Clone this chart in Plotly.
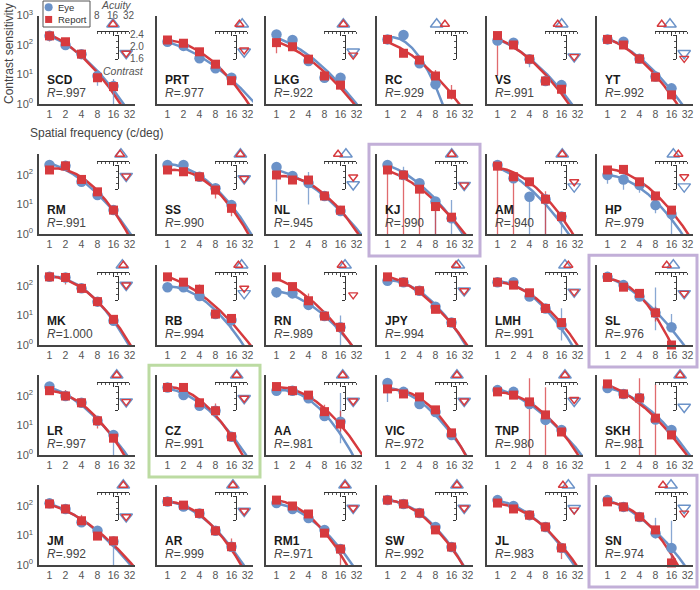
import numpy as np
import plotly.graph_objects as go

W, H = 700, 590
BLUE = "#6b92c8"
RED = "#d63a3e"
BLUE_ERR = "rgba(107,146,200,0.8)"
RED_ERR = "rgba(214,58,62,0.75)"
AXC = "#444444"
TXT = "#555555"
FONT = "Liberation Sans, Arial, Helvetica, sans-serif"

# ---------------- data ----------------
subjects = ["SCD", "PRT", "LKG", "RC", "VS", "YT",
            "RM", "SS", "NL", "KJ", "AM", "HP",
            "MK", "RB", "RN", "JPY", "LMH", "SL",
            "LR", "CZ", "AA", "VIC", "TNP", "SKH",
            "JM", "AR", "RM1", "SW", "JL", "SN"]
r_values = [".997", ".977", ".922", ".929", ".991", ".992",
            ".991", ".990", ".945", ".990", ".940", ".979",
            "1.000", ".994", ".989", ".994", ".991", ".976",
            ".997", ".991", ".981", ".972", ".980", ".981",
            ".992", ".999", ".971", ".992", ".983", ".974"]
freqs = [1, 2, 4, 8, 16]
freq_ticks = [1, 2, 4, 8, 16, 32]

# log10 contrast sensitivity, Eye (blue circles)
eye_logcs = [
    [2.31, 2.00, 1.69, 0.95, 0.61],   # SCD
    [2.11, 1.97, 1.55, 1.21, 0.89],   # PRT
    [2.36, 2.17, 1.46, 0.89, 0.89],   # LKG
    [2.19, 2.34, 1.38, 0.67, None],   # RC
    [2.15, 2.08, 1.52, 0.78, 0.64],   # VS
    [2.19, 2.11, 1.53, 0.93, 0.53],   # YT
    [2.34, 2.31, 1.77, 1.32, 0.81],   # RM
    [2.34, 2.34, 1.94, 1.55, 0.98],   # SS
    [2.27, 1.97, 1.73, 1.29, 0.78],   # NL
    [2.34, 2.00, 1.72, 1.10, 0.53],   # KJ
    [2.34, 1.89, 1.26, 1.18, 0.59],   # AM
    [2.00, 1.85, 1.66, 0.98, 0.68],   # HP
    [2.31, 2.29, 1.92, 1.47, 0.82],   # MK
    [1.96, 1.96, 1.66, 1.05, 0.85],   # RB
    [1.79, 1.75, 1.36, 0.98, 0.60],   # RN
    [2.18, 2.13, 1.84, 1.30, 0.76],   # JPY
    [2.13, 2.13, 1.64, 1.24, 0.68],   # LMH
    [2.31, 2.03, 1.64, 1.09, 0.60],   # SL
    [2.32, 2.00, 1.77, 1.16, 0.68],   # LR
    [2.29, 2.03, 1.67, 1.50, 0.62],   # CZ
    [2.18, 2.18, 1.92, 1.32, 1.13],   # AA
    [2.44, 2.14, 1.73, 1.46, 0.68],   # VIC
    [2.20, 2.14, 1.73, 1.19, 0.85],   # TNP
    [2.27, 2.07, 1.93, 1.20, 0.85],   # SKH
    [2.09, 1.90, 1.45, 1.16, 0.80],   # JM
    [2.15, 1.98, 1.75, 1.16, 0.62],   # AR
    [2.10, 1.90, 1.59, 1.19, 0.54],   # RM1
    [2.20, 2.07, 1.76, 1.29, 0.61],   # SW
    [2.20, 2.00, 1.69, 1.29, 0.58],   # JL
    [2.20, 1.97, 1.63, 1.08, 0.58],   # SN
]
# log10 contrast sensitivity, Report (red squares)
report_logcs = [
    [2.31, 2.11, 1.69, 0.89, 0.59],   # SCD
    [2.17, 2.06, 1.77, 1.35, 0.79],   # PRT
    [2.08, 1.94, 1.52, 0.95, 0.64],   # LKG
    [2.19, 1.72, 1.49, 0.95, 0.33],   # RC
    [2.32, 2.00, 1.52, 0.78, 0.50],   # VS
    [2.19, 2.00, 1.53, 0.91, 0.31],   # YT
    [2.17, 2.31, 1.85, 1.43, 0.81],   # RM
    [2.17, 2.11, 1.94, 1.49, 0.87],   # SS
    [2.00, 1.83, 1.83, 1.29, 0.81],   # NL
    [2.17, 2.00, 1.52, 0.93, 0.57],   # KJ
    [2.30, 1.94, 1.77, 1.18, 0.59],   # AM
    [2.17, 2.19, 1.77, 1.29, 0.81],   # HP
    [2.31, 2.29, 1.92, 1.47, 0.87],   # MK
    [2.31, 2.13, 1.89, 1.05, 0.90],   # RB
    [2.31, 1.98, 1.50, 0.98, 0.60],   # RN
    [2.31, 2.13, 1.84, 1.21, 0.76],   # JPY
    [2.13, 2.03, 1.77, 1.24, 0.76],   # LMH
    [2.29, 1.96, 1.75, 1.09, 0.00],   # SL
    [2.18, 2.00, 1.77, 1.16, 0.57],   # LR
    [2.29, 2.29, 1.77, 1.50, 0.62],   # CZ
    [2.32, 2.18, 2.03, 1.47, 1.05],   # AA
    [2.24, 2.07, 1.97, 1.53, 0.75],   # VIC
    [2.14, 2.03, 1.80, 1.36, 0.78],   # TNP
    [2.41, 2.07, 1.93, 1.25, 0.68],   # SKH
    [2.07, 1.90, 1.50, 0.98, 0.82],   # JM
    [2.15, 2.03, 1.75, 1.16, 0.62],   # AR
    [2.20, 2.00, 1.73, 1.08, 0.54],   # RM1
    [2.20, 2.07, 1.76, 1.19, 0.61],   # SW
    [2.10, 1.90, 1.69, 1.29, 0.58],   # JL
    [2.14, 1.97, 1.63, 1.19, 0.07],   # SN
]
# inset: acuity (c/deg)
eye_acuity = [16, 26, 18.5, 8.6, 16.5, 15.3,
              22.6, 24, 20.7, 16.5, 16.9, 17.7,
              24, 25.4, 19.9, 22, 19, 17.7,
              18.8, 20.5, 18, 20.7, 19, 23.7,
              25, 17.4, 19.9, 20.7, 22, 16]
report_acuity = [16, 23, 18.5, 12.3, 13.9, 10.7,
                 21.7, 24, 14.7, 16.5, 16.9, 22,
                 25, 22, 17.2, 19.9, 22, 13.3,
                 18.8, 20.5, 18, 20.7, 19, 23.7,
                 25, 17.4, 19.9, 20.7, 17.4, 11.3]
# inset: contrast (log10 peak sensitivity)
eye_contrast = [1.79, 1.84, 1.84, 1.51, 1.68, 1.79,
                2.03, 1.95, 1.75, 1.73, 1.68, 1.68,
                2.10, 1.82, 1.49, 1.91, 1.87, 1.82,
                1.88, 1.99, 1.90, 1.90, 1.90, 1.70,
                1.71, 1.90, 2.00, 2.00, 1.99, 2.00]
report_contrast = [1.79, 1.90, 1.73, 1.55, 1.68, 1.62,
                   2.03, 1.95, 2.00, 1.73, 1.84, 2.01,
                   2.10, 1.99, 1.77, 1.91, 1.87, 1.82,
                   1.88, 1.99, 1.90, 1.90, 1.95, 1.59,
                   1.71, 1.90, 2.00, 2.00, 1.93, 1.83]
# error bars: (subject, series, freq, low log10, high log10)
error_bars = [
    ("SCD", "eye", 8, 0.62, 1.05), ("SCD", "eye", 16, -0.5, 0.85),
    ("SCD", "report", 1, 2.12, 2.40), ("SCD", "report", 16, 0.45, 0.80),
    ("LKG", "report", 1, 1.72, 2.20),
    ("RC", "report", 16, 0.15, 0.64), ("RC", "report", 8, 0.85, 1.15),
    ("VS", "report", 1, 0.95, 2.40), ("VS", "eye", 4, 1.25, 1.60),
    ("SS", "report", 8, 1.20, 1.70), ("SS", "report", 16, 0.60, 1.00),
    ("NL", "eye", 1, 1.10, 2.35), ("NL", "eye", 4, 1.00, 2.10),
    ("KJ", "report", 1, -0.5, 2.25), ("KJ", "report", 2, -0.5, 2.10),
    ("KJ", "report", 4, -0.5, 1.60), ("KJ", "report", 8, -0.5, 1.00),
    ("KJ", "eye", 2, 1.90, 2.28), ("KJ", "eye", 8, -0.5, 1.20),
    ("KJ", "eye", 16, -0.5, 1.15),
    ("AM", "report", 1, -0.5, 2.35), ("AM", "report", 2, -0.5, 2.00),
    ("AM", "eye", 4, -0.5, 1.35), ("AM", "report", 8, -0.5, 1.45),
    ("AM", "eye", 8, -0.5, 1.25), ("AM", "eye", 16, -0.5, 0.65),
    ("AM", "report", 16, 0.40, 0.75),
    ("HP", "eye", 1, 1.70, 2.05), ("HP", "eye", 2, 1.50, 1.90),
    ("HP", "eye", 4, 1.40, 1.70), ("HP", "eye", 8, 0.70, 1.05),
    ("HP", "eye", 16, -0.5, 0.75),
    ("MK", "report", 2, 2.05, 2.35),
    ("RB", "eye", 16, 0.50, 0.95), ("RB", "report", 4, 1.80, 2.05),
    ("RN", "eye", 16, -0.5, 1.00), ("RN", "report", 4, 1.40, 1.75),
    ("RN", "eye", 1, 1.60, 1.85),
    ("LMH", "eye", 16, 0.15, 1.25), ("LMH", "report", 1, 2.05, 2.30),
    ("SL", "eye", 8, 0.50, 1.95), ("SL", "report", 8, 0.80, 1.30),
    ("SL", "eye", 16, 0.50, 1.05),
    ("LR", "eye", 16, -0.5, 0.75), ("LR", "report", 8, 0.90, 1.25),
    ("LR", "report", 2, 1.90, 2.20),
    ("CZ", "report", 8, 1.40, 1.75),
    ("AA", "eye", 16, 0.40, 2.10), ("AA", "report", 8, 1.20, 1.70),
    ("AA", "report", 16, 0.80, 1.50),
    ("VIC", "eye", 1, 1.80, 2.50),
    ("TNP", "report", 4, -0.5, 2.60), ("TNP", "report", 8, -0.5, 2.30),
    ("SKH", "report", 4, -0.5, 2.60), ("SKH", "report", 8, -0.5, 2.40),
    ("JM", "eye", 16, -0.5, 0.85), ("JM", "report", 4, 1.35, 1.70),
    ("AR", "report", 16, 0.45, 0.90),
    ("RM1", "report", 16, -0.5, 0.60),
    ("JL", "report", 16, 0.20, 0.65),
    ("SN", "eye", 16, 0.00, 1.50), ("SN", "report", 16, 0.00, 0.60),
    ("SN", "eye", 8, 0.90, 1.60),
]
highlight = {"KJ": "#c2afd8", "SL": "#c2afd8", "SN": "#c2afd8", "CZ": "#bcdba2"}

# ---------------- geometry (pixels) ----------------
col_x = [39, 157, 266, 377, 487, 597]
row_base = [104, 234, 345, 455, 565]
row_decades = [3.0, 2.7, 2.7, 2.7, 2.7]
PX_DEC = 29.5
PANEL_W = 96
X_LO = np.log10(2 ** -0.656)
X_HI = np.log10(2 ** 5.344)


def fx(px):
    return px / W


def fy(py):
    return 1 - py / H


def nm(letter, n):
    return letter if n == 1 else f"{letter}{n}"


def lk(letter, n):
    return f"{letter}axis" if n == 1 else f"{letter}axis{n}"


err_lookup = {}
for s, ser, f, lo, hi in error_bars:
    err_lookup[(s, ser, f)] = (lo, hi)

# grid for truncated log-parabola fit (in octaves)
G_X0 = np.arange(-2.0, 3.5001, 0.05)[:, None, None, None]
G_A = np.arange(0.02, 0.6001, 0.005)[None, :, None, None]
G_D = np.array([0.15, 0.3, 0.6, 10.0])[None, None, :, None]


def fit_curve(name, ser, logs):
    xs, ys, ws = [], [], []
    for f, v in zip(freqs, logs):
        if v is None:
            continue
        lo_hi = err_lookup.get((name, ser, f))
        sd = 0.1 if lo_hi is None else min(max((lo_hi[1] - lo_hi[0]) / 2, 0.1), 0.35)
        xs.append(np.log2(f))
        ys.append(v)
        ws.append(1.0 / sd ** 2)
    x = np.array(xs)
    y = np.array(ys)
    w = np.array(ws)
    d = x - G_X0
    drop = G_A * d ** 2
    drop = np.where(d < 0, np.minimum(drop, G_D), drop)
    base = y + drop
    g = (base * w).sum(-1) / w.sum()
    sse = (w * (base - g[..., None]) ** 2).sum(-1)
    i0, i1, i2 = np.unravel_index(np.argmin(sse), sse.shape)
    x0 = G_X0[i0, 0, 0, 0]
    a = G_A[0, i1, 0, 0]
    dl = G_D[0, 0, i2, 0]
    gg = g[i0, i1, i2]
    gx = np.linspace(0, 5.8, 160)
    dd = gx - x0
    dr = a * dd ** 2
    dr = np.where(dd < 0, np.minimum(dr, dl), dr)
    gy = gg - dr
    keep = []
    for i, v in enumerate(gy):
        keep.append(i)
        if v < -0.3:
            break
    return 2 ** gx[keep], 10 ** gy[keep]


layout = {}
annotations = []
shapes = []
traces = []

acu_minor = [8 * 2 ** (i / 4) for i in range(9)]


def ann(text, x, y, size, color=TXT, xref="paper", yref="paper",
        xanchor="center", yanchor="middle", **kw):
    d = dict(text=text, x=x, y=y, xref=xref, yref=yref, xanchor=xanchor,
             yanchor=yanchor, showarrow=False,
             font=dict(size=size, color=color, family=FONT))
    d.update(kw)
    annotations.append(d)


for k, name in enumerate(subjects):
    r, c = divmod(k, 6)
    ax = col_x[c]
    b = row_base[r]
    dec = row_decades[r]
    top = b - dec * PX_DEC

    # main panel
    n = k + 1
    layout[lk("x", n)] = dict(
        domain=[fx(ax), fx(ax + PANEL_W)], anchor=nm("y", n), type="log",
        range=[X_LO, X_HI], showline=True, linecolor=AXC, linewidth=1.5,
        ticks="", tickvals=freq_ticks, ticktext=[str(t) for t in freq_ticks],
        tickfont=dict(size=10.5, color=TXT, family=FONT), showgrid=False,
        zeroline=False, fixedrange=True, automargin=False)
    yt = [1, 10, 100, 1000] if r == 0 else [1, 10, 100]
    layout[lk("y", n)] = dict(
        domain=[fy(b), fy(top)], anchor=nm("x", n), type="log",
        range=[0, dec], showline=True, linecolor=AXC, linewidth=1.5,
        ticks="", tickvals=yt,
        ticktext=[f"10<sup>{int(np.log10(v))}</sup>" for v in yt],
        showticklabels=(c == 0), ticklabelstandoff=2,
        tickfont=dict(size=11, color=TXT, family=FONT), showgrid=False,
        zeroline=False, fixedrange=True, automargin=False)

    e_logs = eye_logcs[k]
    r_logs = report_logcs[k]
    for ser, logs, col in (("eye", e_logs, BLUE), ("report", r_logs, RED)):
        cx, cy = fit_curve(name, ser, logs)
        traces.append(go.Scatter(x=cx, y=cy, mode="lines",
                                 line=dict(color=col, width=2.5),
                                 xaxis=nm("x", n), yaxis=nm("y", n),
                                 hoverinfo="skip", showlegend=False))
    for ser, ecol in (("eye", BLUE_ERR), ("report", RED_ERR)):
        ex, ey = [], []
        for f in freqs:
            if (name, ser, f) in err_lookup:
                lo, hi = err_lookup[(name, ser, f)]
                ex += [f, f, None]
                ey += [10 ** lo, 10 ** hi, None]
        if ex:
            traces.append(go.Scatter(x=ex, y=ey, mode="lines",
                                     line=dict(color=ecol, width=1.3),
                                     xaxis=nm("x", n), yaxis=nm("y", n),
                                     hoverinfo="skip", showlegend=False))
    for logs, col, sym, size in ((e_logs, BLUE, "circle", 10.5),
                                 (r_logs, RED, "square", 9)):
        px_ = [f for f, v in zip(freqs, logs) if v is not None]
        py_ = [10 ** v for v in logs if v is not None]
        traces.append(go.Scatter(x=px_, y=py_, mode="markers",
                                 marker=dict(color=col, symbol=sym, size=size,
                                             line=dict(width=0)),
                                 cliponaxis=False,
                                 xaxis=nm("x", n), yaxis=nm("y", n),
                                 hoverinfo="skip", showlegend=False))

    # acuity inset
    n2 = 31 + k
    layout[lk("x", n2)] = dict(
        domain=[fx(ax + 58), fx(ax + 90)], anchor=nm("y", n2), type="log",
        range=[np.log10(8), np.log10(32)], showline=True, linecolor="#333",
        linewidth=1, ticks="outside", ticklen=3.5, tickwidth=1,
        tickcolor="#333", tickvals=[16], showticklabels=False,
        minor=dict(tickvals=acu_minor, ticks="outside", ticklen=2,
                   tickwidth=1, tickcolor="#555"),
        showgrid=False, zeroline=False, fixedrange=True, automargin=False)
    layout[lk("y", n2)] = dict(
        domain=[fy(b - 73), fy(b - 90)], anchor=nm("x", n2), range=[0, 1],
        visible=False, fixedrange=True, automargin=False)
    for val, col, size in ((eye_acuity[k], BLUE, 11), (report_acuity[k], RED, 8)):
        traces.append(go.Scatter(x=[val], y=[0.4], mode="markers",
                                 marker=dict(symbol="triangle-up-open", size=size,
                                             color=col, line=dict(width=1.4, color=col)),
                                 cliponaxis=False,
                                 xaxis=nm("x", n2), yaxis=nm("y", n2),
                                 hoverinfo="skip", showlegend=False))

    # contrast inset
    n3 = 61 + k
    layout[lk("x", n3)] = dict(
        domain=[fx(ax + 80), fx(ax + 96)], anchor=nm("y", n3), range=[0, 1],
        visible=False, fixedrange=True, automargin=False)
    layout[lk("y", n3)] = dict(
        domain=[fy(b - 45), fy(b - 69)], anchor=nm("x", n3), range=[1.6, 2.4],
        showline=True, linecolor="#333", linewidth=1, ticks="outside",
        ticklen=3.5, tickwidth=1, tickcolor="#333", tickvals=[1.6, 2.4],
        minor=dict(tickvals=[1.8, 2.0, 2.2], ticks="outside", ticklen=2,
                   tickwidth=1, tickcolor="#555"),
        showticklabels=False, showgrid=False, zeroline=False, fixedrange=True,
        automargin=False)
    for val, col, size in ((eye_contrast[k], BLUE, 11), (report_contrast[k], RED, 8)):
        traces.append(go.Scatter(x=[0.45], y=[val], mode="markers",
                                 marker=dict(symbol="triangle-down-open", size=size,
                                             color=col, line=dict(width=1.4, color=col)),
                                 cliponaxis=False,
                                 xaxis=nm("x", n3), yaxis=nm("y", n3),
                                 hoverinfo="skip", showlegend=False))

    # labels
    ann(f"<b>{name}</b>", fx(ax + 6), fy(b - 24), 12, color="#1a1a1a",
        xanchor="left")
    ann(f"<i>R</i>={r_values[k]}", fx(ax + 6), fy(b - 11), 12, color="#444",
        xanchor="left")

    if name in highlight:
        shapes.append(dict(type="rect", xref="paper", yref="paper",
                           x0=fx(ax - 8), x1=fx(min(ax + 103, 697)),
                           y0=fy(b + 22), y1=fy(top - 10),
                           line=dict(color=highlight[name], width=3)))

# inset annotation for first panel
ax0, b0 = col_x[0], row_base[0]
ann("<i>Acuity</i>", fx(ax0 + 77), fy(5), 10.5)
for v in (8, 16, 32):
    ann(str(v), np.log10(v), fy(15.5), 10, xref="x31")
for v in (2.4, 2.0, 1.6):
    ann(f"{v:.1f}", fx(ax0 + 98), v, 10, yref="y61")
ann("<i>Contrast</i>", fx(ax0 + 85), fy(71), 10.5)

# axis titles
ann("Contrast sensitivity", fx(9), fy(54), 12, color="#444", textangle=-90)
ann("Spatial frequency (c/deg)", fx(96), fy(133), 12, color="#444")

# legend
shapes.append(dict(type="rect", xref="paper", yref="paper", layer="below",
                   x0=fx(43), x1=fx(90), y0=fy(27), y1=fy(1),
                   line=dict(color="#555", width=1), fillcolor="white"))
layout["xaxis91"] = dict(domain=[fx(43), fx(90)], anchor="y91", range=[0, 1],
                         visible=False, fixedrange=True)
layout["yaxis91"] = dict(domain=[fy(27), fy(1)], anchor="x91", range=[0, 1],
                         visible=False, fixedrange=True)
traces.append(go.Scatter(x=[0.12], y=[0.76], mode="markers",
                         marker=dict(color=BLUE, symbol="circle", size=8),
                         xaxis="x91", yaxis="y91", hoverinfo="skip",
                         showlegend=False, cliponaxis=False))
traces.append(go.Scatter(x=[0.12], y=[0.29], mode="markers",
                         marker=dict(color=RED, symbol="square", size=7),
                         xaxis="x91", yaxis="y91", hoverinfo="skip",
                         showlegend=False, cliponaxis=False))
ann("Eye", fx(56), fy(7), 9.5, color="#333", xanchor="left")
ann("Report", fx(56), fy(19), 9.5, color="#333", xanchor="left")

fig = go.Figure(data=traces)
fig.update_layout(**layout)
fig.update_layout(width=W, height=H, autosize=False,
                  margin=dict(l=0, r=0, t=0, b=0, pad=0, autoexpand=False),
                  paper_bgcolor="white", plot_bgcolor="rgba(0,0,0,0)",
                  showlegend=False, annotations=annotations, shapes=shapes,
                  font=dict(family=FONT))
fig.write_html("out.html", config={"displayModeBar": False},
               post_script="document.body.style.margin='0';document.body.style.padding='0';")
